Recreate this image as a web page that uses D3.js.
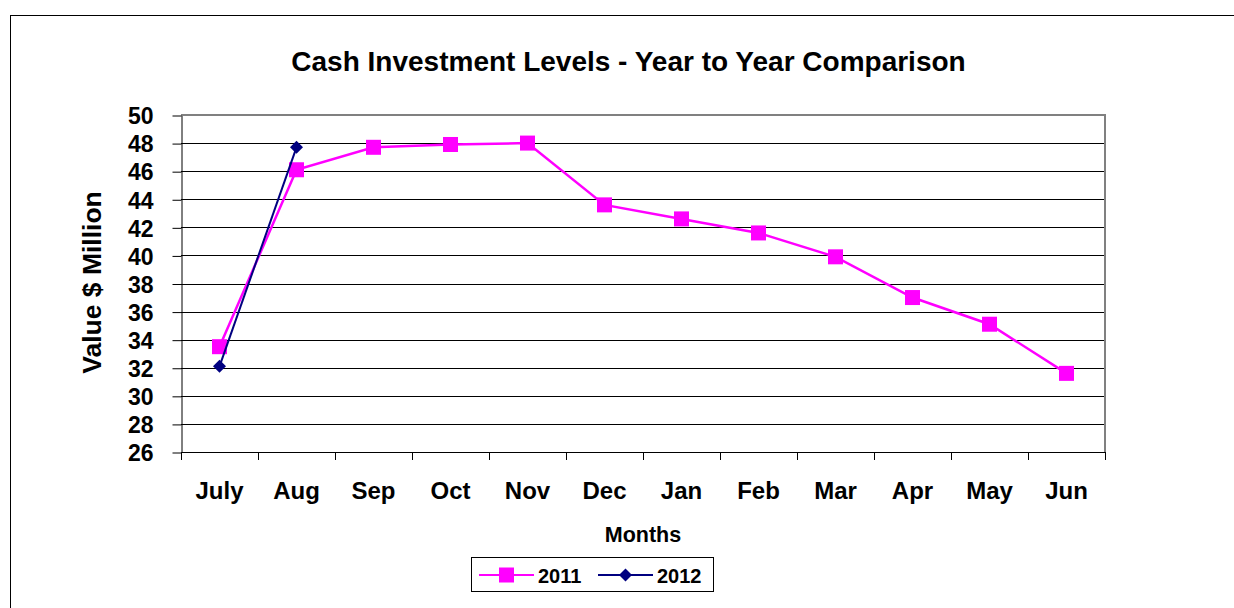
<!DOCTYPE html>
<html>
<head>
<meta charset="utf-8">
<script src="https://cdn.jsdelivr.net/npm/d3@7"></script>
<style>
  body { margin: 0; background: #fff; }
  svg { display: block; font-family: "Liberation Sans", Arial, sans-serif; }
</style>
</head>
<body>
<svg id="chart" width="1234" height="608"></svg>
<script>
const months = ["July", "Aug", "Sep", "Oct", "Nov", "Dec", "Jan", "Feb", "Mar", "Apr", "May", "Jun"];
const values2011 = [33.5, 46.1, 47.7, 47.9, 48.0, 43.6, 42.6, 41.6, 39.9, 37.0, 35.1, 31.6];
const values2012 = [32.1, 47.7];
const yTicks = [26, 28, 30, 32, 34, 36, 38, 40, 42, 44, 46, 48, 50];
const seriesNames = ["2011", "2012"];

const svg = d3.select("#chart");
const width = 1234, height = 608;
const plot = { left: 181, right: 1105, top: 115, bottom: 452 };

const pink = "#ff00ff", navy = "#000080";

// outer chart frame
svg.append("rect")
    .attr("x", 10.5).attr("y", 15.5)
    .attr("width", 1260).attr("height", 620)
    .attr("fill", "#fff")
    .attr("stroke", "#000")
    .attr("stroke-width", 1);

svg.append("text")
    .attr("x", 628.5).attr("y", 71)
    .attr("text-anchor", "middle")
    .style("font-size", "28px")
    .style("font-weight", "bold")
    .text("Cash Investment Levels - Year to Year Comparison");

const x = d3.scaleBand().domain(months).range([plot.left, plot.right]);
const y = d3.scaleLinear().domain([26, 50]).range([plot.bottom, plot.top]);

const g = svg.append("g");

// gridlines
g.selectAll("line.grid")
    .data(yTicks.filter(t => t > 26 && t < 50))
    .enter().append("line")
    .attr("class", "grid")
    .attr("x1", plot.left).attr("x2", plot.right)
    .attr("y1", d => Math.round(y(d)) + 0.5).attr("y2", d => Math.round(y(d)) + 0.5)
    .attr("stroke", "#000")
    .attr("stroke-width", 1);

// plot area border (gray top/right)
g.append("line")
    .attr("x1", plot.left).attr("x2", plot.right + 1)
    .attr("y1", plot.top).attr("y2", plot.top)
    .attr("stroke", "#808080").attr("stroke-width", 2);
g.append("line")
    .attr("x1", plot.right).attr("x2", plot.right)
    .attr("y1", plot.top).attr("y2", plot.bottom)
    .attr("stroke", "#808080").attr("stroke-width", 2);

// y axis
const yAxis = g.append("g")
    .attr("transform", `translate(${plot.left + 0.5},0.5)`)
    .call(d3.axisLeft(y).tickValues(yTicks).tickSize(9).tickSizeOuter(0).tickPadding(19));
yAxis.select(".domain").attr("stroke", "#000");
yAxis.selectAll(".tick line").attr("stroke", "#000");
yAxis.selectAll("text")
    .attr("fill", "#000")
    .attr("dy", "0.36em")
    .style("font-size", "23px")
    .style("font-weight", "bold")
    .style("font-family", "Liberation Sans, Arial, sans-serif");

// x axis
const xTickPos = months.map(m => x(m)).concat([plot.right]);
const xAxisG = g.append("g");
xAxisG.append("line")
    .attr("x1", plot.left).attr("x2", plot.right)
    .attr("y1", plot.bottom + 0.5).attr("y2", plot.bottom + 0.5)
    .attr("stroke", "#000");
xAxisG.selectAll("line.xt")
    .data(xTickPos)
    .enter().append("line")
    .attr("x1", d => Math.round(d) + 0.5).attr("x2", d => Math.round(d) + 0.5)
    .attr("y1", plot.bottom).attr("y2", plot.bottom + 8)
    .attr("stroke", "#000");
xAxisG.selectAll("text")
    .data(months)
    .enter().append("text")
    .attr("x", d => x(d) + x.bandwidth() / 2)
    .attr("y", 499)
    .attr("text-anchor", "middle")
    .style("font-size", "24px")
    .style("font-weight", "bold")
    .text(d => d);

// axis titles
svg.append("text")
    .attr("x", 643).attr("y", 541.5)
    .attr("text-anchor", "middle")
    .style("font-size", "21.5px")
    .style("font-weight", "bold")
    .text("Months");

svg.append("text")
    .attr("transform", `translate(101,282.5) rotate(-90)`)
    .attr("text-anchor", "middle")
    .style("font-size", "26.5px")
    .style("font-weight", "bold")
    .text("Value $ Million");

const cx = i => x(months[i]) + x.bandwidth() / 2;
const line = d3.line().x((d, i) => cx(i)).y(d => y(d));

// 2011 series
g.append("path")
    .datum(values2011)
    .attr("fill", "none")
    .attr("stroke", pink)
    .attr("stroke-width", 2.5)
    .attr("d", line);
g.selectAll("rect.m2011")
    .data(values2011)
    .enter().append("rect")
    .attr("x", (d, i) => cx(i) - 7.5)
    .attr("y", d => y(d) - 7.5)
    .attr("width", 15).attr("height", 15)
    .attr("fill", pink);

// 2012 series
g.append("path")
    .datum(values2012)
    .attr("fill", "none")
    .attr("stroke", navy)
    .attr("stroke-width", 2)
    .attr("d", line);
g.selectAll("path.m2012")
    .data(values2012)
    .enter().append("path")
    .attr("transform", (d, i) => `translate(${cx(i)},${y(d)}) rotate(45)`)
    .attr("d", d3.symbol().type(d3.symbolSquare).size(84))
    .attr("fill", navy);

// legend
const lg = svg.append("g");
lg.append("rect")
    .attr("x", 471.5).attr("y", 557.5)
    .attr("width", 242).attr("height", 34)
    .attr("fill", "#fff").attr("stroke", "#000");
const legendItems = [
    { name: seriesNames[0], color: pink, x0: 479, type: "square" },
    { name: seriesNames[1], color: navy, x0: 598, type: "diamond" }
];
legendItems.forEach(it => {
    lg.append("line")
        .attr("x1", it.x0).attr("x2", it.x0 + 55)
        .attr("y1", 575).attr("y2", 575)
        .attr("stroke", it.color).attr("stroke-width", 2);
    if (it.type === "square") {
        lg.append("rect")
            .attr("x", it.x0 + 27.5 - 7.5).attr("y", 575 - 7.5)
            .attr("width", 15).attr("height", 15)
            .attr("fill", it.color);
    } else {
        lg.append("path")
            .attr("transform", `translate(${it.x0 + 27.5},575) rotate(45)`)
            .attr("d", d3.symbol().type(d3.symbolSquare).size(84))
            .attr("fill", it.color);
    }
    lg.append("text")
        .attr("x", it.x0 + 59).attr("y", 582.5)
        .style("font-size", "20px")
        .style("font-weight", "bold")
        .text(it.name);
});
</script>
</body>
</html>
